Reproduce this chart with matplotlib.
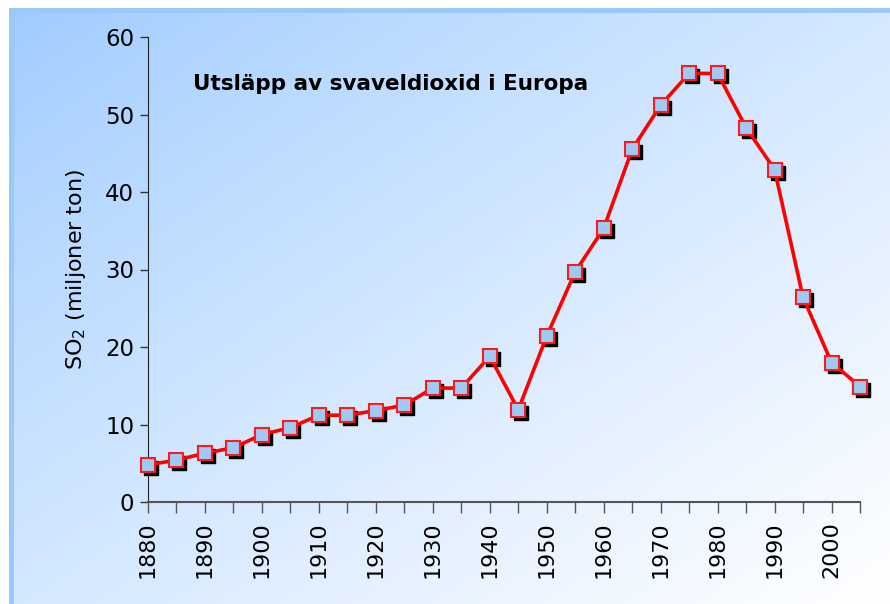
import numpy as np
import matplotlib
matplotlib.use("Agg")
import matplotlib.pyplot as plt
from matplotlib.transforms import offset_copy
from matplotlib.colors import to_rgb

years = [1880, 1885, 1890, 1895, 1900, 1905, 1910, 1915, 1920, 1925, 1930, 1935,
         1940, 1945, 1950, 1955, 1960, 1965, 1970, 1975, 1980, 1985, 1990, 1995,
         2000, 2005]
so2 = [4.8, 5.4, 6.3, 7.0, 8.7, 9.6, 11.2, 11.2, 11.8, 12.5, 14.7, 14.7,
       18.8, 11.9, 21.4, 29.7, 35.3, 45.5, 51.2, 55.3, 55.3, 48.3, 42.9, 26.4,
       18.0, 14.9]
title = "Utsläpp av svaveldioxid i Europa"
ylabel = "SO$_\\mathregular{2}$ (miljoner ton)"

W, H = 890, 604
fig = plt.figure(figsize=(W / 100, H / 100), dpi=100)
fig.patch.set_facecolor("white")

# gradient background
bg = fig.add_axes([9 / W, 0, 1 - 9 / W, 1 - 8 / H], zorder=-10)
bg.set_axis_off()
nx, ny = 400, 300
gx = np.linspace(0, 1, nx)[None, :]
gy = np.linspace(0, 1, ny)[:, None]
t = np.clip((gx + gy) / 2, 0, 1) ** 0.85
c0 = np.array(to_rgb("#9ecbff"))
c1 = np.array([1.0, 1.0, 1.0])
img = c0[None, None, :] * (1 - t[..., None]) + c1[None, None, :] * t[..., None]
bg.imshow(img, aspect="auto", extent=[0, 1, 0, 1], origin="upper")
bg.set_xlim(0, 1)
bg.set_ylim(0, 1)
bg.plot([0, 1], [0.996, 0.996], color="#99c8fa", lw=3.5, transform=bg.transAxes,
        clip_on=False, solid_capstyle="butt")
bg.plot([0.002, 0.002], [0, 1], color="#99c8fa", lw=3.5, transform=bg.transAxes,
        clip_on=False, solid_capstyle="butt")

ax = fig.add_axes([148 / W, 1 - 502 / H, (860 - 148) / W, (502 - 37) / H])
ax.patch.set_alpha(0)
ax.set_xlim(1880, 2005)
ax.set_ylim(0, 60)

shadow = offset_copy(ax.transData, fig=fig, x=3, y=-3, units="dots")
ax.plot(years, so2, linestyle="none", marker="s", markersize=10.5,
        markerfacecolor="black", markeredgecolor="black", transform=shadow,
        clip_on=False, zorder=3)
ax.plot(years, so2, color="#ff0000", lw=2.6, zorder=4, clip_on=False)
ax.plot(years, so2, linestyle="none", marker="s", markersize=10.5,
        markerfacecolor="#9fcaf8", markeredgecolor="#ff1a1a", markeredgewidth=1.5,
        clip_on=False, zorder=5)

ax.set_yticks([0, 10, 20, 30, 40, 50, 60])
ax.set_xticks(years)
ax.set_xticklabels([str(y) if y % 10 == 0 else "" for y in years], rotation=90)
ax.tick_params(axis="y", labelsize=16.5, length=6, width=1, color="#333333", pad=4)
ax.tick_params(axis="x", labelsize=16, length=8, width=1, color="#555555", pad=6)

for s in ["top", "right"]:
    ax.spines[s].set_visible(False)
ax.spines["left"].set_color("#222222")
ax.spines["bottom"].set_color("#555555")
ax.spines["bottom"].set_linewidth(1.5)

ax.set_ylabel(ylabel, fontsize=16, labelpad=12)
ax.text(0.063, 0.90, title, transform=ax.transAxes, fontsize=15.5,
        fontweight="bold", ha="left", va="center")

fig.savefig("out.png", dpi=100)
